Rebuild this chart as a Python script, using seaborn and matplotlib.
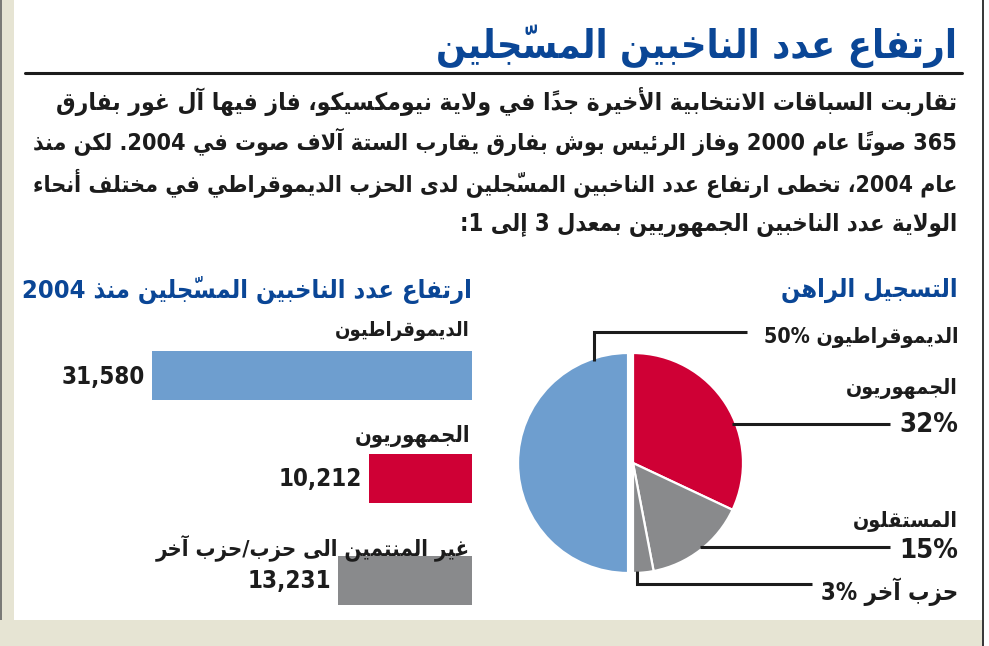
import matplotlib
matplotlib.use("Agg")
import matplotlib.pyplot as plt
from matplotlib import font_manager as fm
from matplotlib.lines import Line2D
from matplotlib.patches import Rectangle
import numpy as np
import pandas as pd
import seaborn as sns

# ---------------- data ----------------
TITLE = "ارتفاع عدد الناخبين المسجّلين"
INTRO_LINES = [
    "تقاربت السباقات الانتخابية الأخيرة جداً في ولاية نيومكسيكو، فاز فيها آل غور بفارق",
    "365 صوتاً عام 2000 وفاز الرئيس بوش بفارق يقارب الستة آلاف صوت في 2004. لكن منذ",
    "عام 2004، تخطى ارتفاع عدد الناخبين المسجّلين لدى الحزب الديموقراطي في مختلف أنحاء",
    "الولاية عدد الناخبين الجمهوريين بمعدل 3 إلى 1:",
]
BAR_TITLE = "ارتفاع عدد الناخبين المسجّلين منذ 2004"
BAR_CATEGORIES = ["الديموقراطيون", "الجمهوريون", "غير المنتمين الى حزب/حزب آخر"]
BAR_VALUES = [31580, 10212, 13231]
BAR_VALUE_LABELS = ["31,580", "10,212", "13,231"]
PIE_TITLE = "التسجيل الراهن"
PIE_CATEGORIES = ["الديموقراطيون", "الجمهوريون", "المستقلون", "حزب آخر"]
PIE_SHARES = [50, 32, 15, 3]

BLUE = "#6e9ecf"
RED = "#cf0035"
GRAY = "#898a8c"
TITLE_BLUE = "#0a4696"
INK = "#1c1c1c"
BEIGE = "#e6e4d3"

# ---------------- Arabic shaping (presentation forms + visual order) ----------------
RIGHT = {0x0622: 0xFE81, 0x0623: 0xFE83, 0x0624: 0xFE85, 0x0625: 0xFE87, 0x0627: 0xFE8D,
         0x0629: 0xFE93, 0x062F: 0xFEA9, 0x0630: 0xFEAB, 0x0631: 0xFEAD, 0x0632: 0xFEAF,
         0x0648: 0xFEED, 0x0649: 0xFEEF}
DUAL = {0x0626: 0xFE89, 0x0628: 0xFE8F, 0x062A: 0xFE95, 0x062B: 0xFE99, 0x062C: 0xFE9D,
        0x062D: 0xFEA1, 0x062E: 0xFEA5, 0x0633: 0xFEB1, 0x0634: 0xFEB5, 0x0635: 0xFEB9,
        0x0636: 0xFEBD, 0x0637: 0xFEC1, 0x0638: 0xFEC5, 0x0639: 0xFEC9, 0x063A: 0xFECD,
        0x0641: 0xFED1, 0x0642: 0xFED5, 0x0643: 0xFED9, 0x0644: 0xFEDD, 0x0645: 0xFEE1,
        0x0646: 0xFEE5, 0x0647: 0xFEE9, 0x064A: 0xFEF1}
NONJOIN = {0x0621: 0xFE80}
LAMALEF = {0x0622: 0xFEF5, 0x0623: 0xFEF7, 0x0625: 0xFEF9, 0x0627: 0xFEFB}


def is_mark(ch):
    o = ord(ch)
    return 0x064B <= o <= 0x0652 or o == 0x0670


def is_letter(ch):
    o = ord(ch)
    return o in RIGHT or o in DUAL or o in NONJOIN


def shape(s):
    clusters = []
    for ch in s:
        if is_mark(ch) and clusters:
            clusters[-1][1] += ch
        else:
            clusters.append([ch, ""])
    out = []
    i, n = 0, len(clusters)
    while i < n:
        b, m = clusters[i]
        o = ord(b)
        if not is_letter(b):
            out.append(b + m)
            i += 1
            continue
        prev = i > 0 and ord(clusters[i - 1][0]) in DUAL
        nxt = clusters[i + 1][0] if i + 1 < n else None
        if o == 0x0644 and nxt is not None and ord(nxt) in LAMALEF:
            g = LAMALEF[ord(nxt)] + (1 if prev else 0)
            out.append(chr(g) + m + clusters[i + 1][1])
            i += 2
            continue
        nj = o in DUAL and nxt is not None and (ord(nxt) in RIGHT or ord(nxt) in DUAL)
        if o in NONJOIN:
            g = NONJOIN[o]
        elif o in RIGHT:
            g = RIGHT[o] + (1 if prev else 0)
        else:
            g = DUAL[o] + (3 if (prev and nj) else 1 if prev else 2 if nj else 0)
        out.append(chr(g) + m)
        i += 1
    return out


def visual(s):
    units = shape(s)
    tokens = []
    i = 0
    while i < len(units):
        if units[i][0].isdigit():
            run = ""
            j = i
            while j < len(units) and (
                units[j][0].isdigit()
                or (units[j] in ",." and j + 1 < len(units) and units[j + 1][0].isdigit())
                or units[j] == "%"
            ):
                run += units[j]
                j += 1
            tokens.append(run)
            i = j
        else:
            tokens.append(units[i])
            i += 1
    return "".join(reversed(tokens))


# ---------------- font ----------------
FONT_PATH = None
for f in fm.findSystemFonts():
    if f.endswith("DejaVuSansCondensed-Bold.ttf"):
        FONT_PATH = f
        break
FP = fm.FontProperties(fname=FONT_PATH) if FONT_PATH else fm.FontProperties(family="DejaVu Sans", weight="bold")

# ---------------- figure ----------------
sns.set_theme(style="white")
W, H = 989, 646
fig = plt.figure(figsize=(W / 100, H / 100), dpi=100)
fig.patch.set_facecolor("white")
renderer = fig.canvas.get_renderer()


def fx(px):
    return px / W


def fy(py):
    return 1 - py / H


def put(text, xr, yc, width=None, color=INK, size0=14):
    t = fig.text(fx(xr), fy(yc), visual(text), ha="right", va="center",
                 fontproperties=FP, fontsize=size0, color=color)
    if width is not None:
        bb = t.get_window_extent(renderer)
        t.set_fontsize(size0 * width / bb.width)
    return t


# frame decorations
fig.add_artist(Rectangle((0, 0), fx(2), 1, transform=fig.transFigure, color="#7a7a76", lw=0))
fig.add_artist(Rectangle((fx(2), 0), fx(12), 1, transform=fig.transFigure, color=BEIGE, lw=0))
fig.add_artist(Rectangle((0, 0), fx(983), fy(620), transform=fig.transFigure, color=BEIGE, lw=0))
fig.add_artist(Rectangle((fx(981.5), 0), fx(2), 1, transform=fig.transFigure, color="#3a3a3a", lw=0))
fig.add_artist(Line2D([fx(25), fx(962)], [fy(73), fy(73)], transform=fig.transFigure,
                      color=INK, lw=2.2))

# title + intro
put(TITLE, 957, 46, 520, TITLE_BLUE, 30)
intro_geom = [(101, 907), (142, 929), (183, 929)]
sizes = []
for line, (yc, wd) in zip(INTRO_LINES[:3], intro_geom):
    t = put(line, 957, yc, wd, INK, 16)
    sizes.append(t.get_fontsize())
put(INTRO_LINES[3], 957, 225, None, INK, float(np.mean(sizes)))

# ---------------- bar chart ----------------
ax_bar = fig.add_axes([fx(152), fy(620), fx(472) - fx(152), fy(330) - fy(620)])
df = pd.DataFrame({"category": BAR_CATEGORIES, "value": BAR_VALUES})
sns.barplot(data=df, x="value", y="category", hue="category", orient="h",
            palette=[BLUE, RED, GRAY], saturation=1, width=0.48, linewidth=0,
            legend=False, ax=ax_bar)
ax_bar.set_xlim(max(BAR_VALUES), 0)
ax_bar.set_ylim(2.39, -0.45)
ax_bar.axis("off")

put(BAR_TITLE, 472, 290, 454, TITLE_BLUE, 14)
label_w = [135, 115, 315]
label_dy = [-45, -42, -33]
value_size = None
for i, (cat, val, vl) in enumerate(zip(BAR_CATEGORIES, BAR_VALUES, BAR_VALUE_LABELS)):
    x_disp, y_disp = ax_bar.transData.transform((0, i))
    y_px = H - y_disp
    put(cat, x_disp - 2, y_px + label_dy[i], label_w[i], INK, 14)
    xe, _ = ax_bar.transData.transform((val, i))
    if value_size is None:
        value_size = put(vl, xe - 7, y_px + 1, 84, INK, 14).get_fontsize()
    else:
        put(vl, xe - 7, y_px + 1, None, INK, value_size)

# ---------------- pie chart ----------------
R = 110
CX, CY = 633, 463
ax_pie = fig.add_axes([fx(CX - R), fy(CY + R), 2 * R / W, 2 * R / H])
order = [1, 2, 3, 0]
pie_colors = [BLUE, RED, GRAY, GRAY]
wedges, _ = ax_pie.pie([PIE_SHARES[k] for k in order],
                       colors=[pie_colors[k] for k in order],
                       explode=[0.045 if k == 0 else 0 for k in order],
                       startangle=90, counterclock=False,
                       wedgeprops=dict(edgecolor="white", linewidth=1.6))
ax_pie.set_xlim(-1, 1)
ax_pie.set_ylim(-1, 1)
ax_pie.set_aspect("equal")
wmap = {k: w for k, w in zip(order, wedges)}


def u(px):
    return (px - CX) / R


def v(py):
    return (CY - py) / R


def anchor(k, ang):
    w = wmap[k]
    cx, cy = w.center
    return cx + np.cos(np.radians(ang)), cy + np.sin(np.radians(ang))


lkw = dict(color=INK, lw=2.2, solid_capstyle="butt", solid_joinstyle="miter", clip_on=False)
a0 = anchor(0, 108)
ax_pie.plot([a0[0], a0[0], u(747)], [a0[1] - 0.02, v(332), v(332)], **lkw)
a1 = anchor(1, 21)
ax_pie.plot([a1[0] - 0.03, u(890)], [a1[1], a1[1]], **lkw)
a2 = anchor(2, -50)
ax_pie.plot([a2[0] - 0.03, u(890)], [a2[1], a2[1]], **lkw)
a3 = anchor(3, -88)
ax_pie.plot([a3[0], a3[0], u(812)], [a3[1] + 0.02, v(584), v(584)], **lkw)

put(PIE_TITLE, 958, 290, 178, TITLE_BLUE, 14)
put(f"{PIE_CATEGORIES[0]} {PIE_SHARES[0]}%", 958, 337, 195, INK, 14)
put(PIE_CATEGORIES[1], 958, 388, 112, INK, 14)
pct_size = put(f"{PIE_SHARES[1]}%", 958, 425, 59, INK, 14).get_fontsize()
put(PIE_CATEGORIES[2], 958, 521, 105, INK, 14)
put(f"{PIE_SHARES[2]}%", 958, 551, None, INK, pct_size)
put(f"{PIE_CATEGORIES[3]} {PIE_SHARES[3]}%", 958, 592, 138, INK, 14)

fig.savefig("out.png", dpi=100, facecolor="white")
